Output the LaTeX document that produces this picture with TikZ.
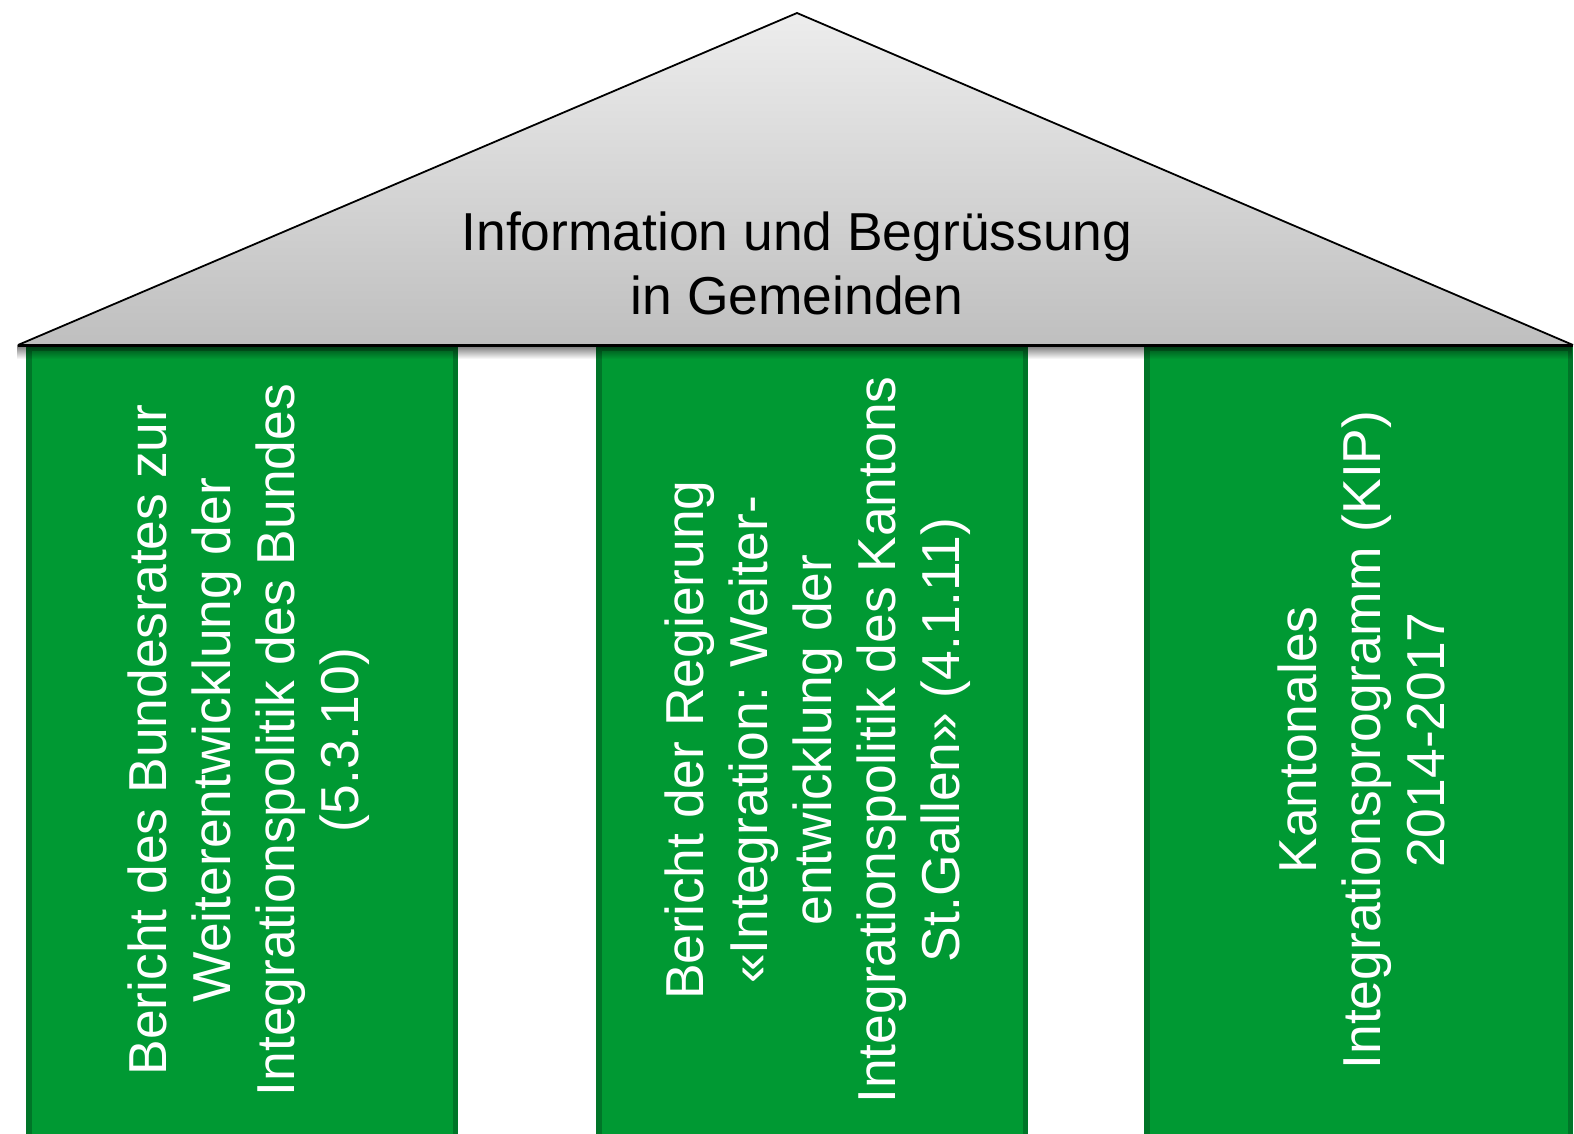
\documentclass[tikz,border=0pt]{standalone}
\usepackage{fontspec}
\setmainfont{Liberation Sans}
\usetikzlibrary{fadings}
\definecolor{pillargreen}{RGB}{0,153,51}
\definecolor{pillaredge}{RGB}{0,117,40}
\definecolor{rooftop}{RGB}{237,237,237}
\definecolor{roofbottom}{RGB}{191,191,191}
\begin{document}
\begin{tikzpicture}[x=1pt,y=-1pt,
  pillar/.style={fill=pillargreen,draw=pillaredge,line width=5.5pt},
  bigtext/.style={align=center,inner sep=0pt,font=\fontsize{53.4}{64}\selectfont},
  pillartext/.style={bigtext,rotate=90,text=white},
  rooftext/.style={bigtext,text=black}]
\useasboundingbox (0,0) rectangle (1574,1134);
\fill[white] (0,0) rectangle (1574,1134);

% three pillars
\draw[pillar] (28.75,348) rectangle (455.25,1150);
\draw[pillar] (598.75,348) rectangle (1025.25,1150);
\draw[pillar] (1146.75,348) rectangle (1570.25,1150);

% soft shadow cast by the roof
\fill[black,opacity=0.55,path fading=south] (18,345) rectangle (1574,359);

% roof
\coordinate (eaveL) at (18,345);
\coordinate (apex) at (797,13);
\coordinate (eaveR) at (1573,345);
\shade[top color=rooftop,bottom color=roofbottom] (eaveL) -- (apex) -- (eaveR) -- cycle;
\draw[line width=1.8pt] (eaveL) -- (apex) -- (eaveR);
\draw[line width=3pt] (eaveL) -- (eaveR);

% labels
\node[rooftext] (roofLabel) at (797,263.7) {Information und Begrüssung\\in Gemeinden};
\node[pillartext] (federal) at (249,740) {Bericht des Bundesrates zur\\Weiterentwicklung der\\Integrationspolitik des Bundes\\(5.3.10)};
\node[pillartext] (cantonal) at (817.5,740) {Bericht der Regierung\\«Integration: Weiter-\\entwicklung der\\Integrationspolitik des Kantons\\St.Gallen» (4.1.11)};
\node[pillartext] (kip) at (1361.5,740) {Kantonales\\Integrationsprogramm (KIP)\\2014-2017};
\end{tikzpicture}
\end{document}
